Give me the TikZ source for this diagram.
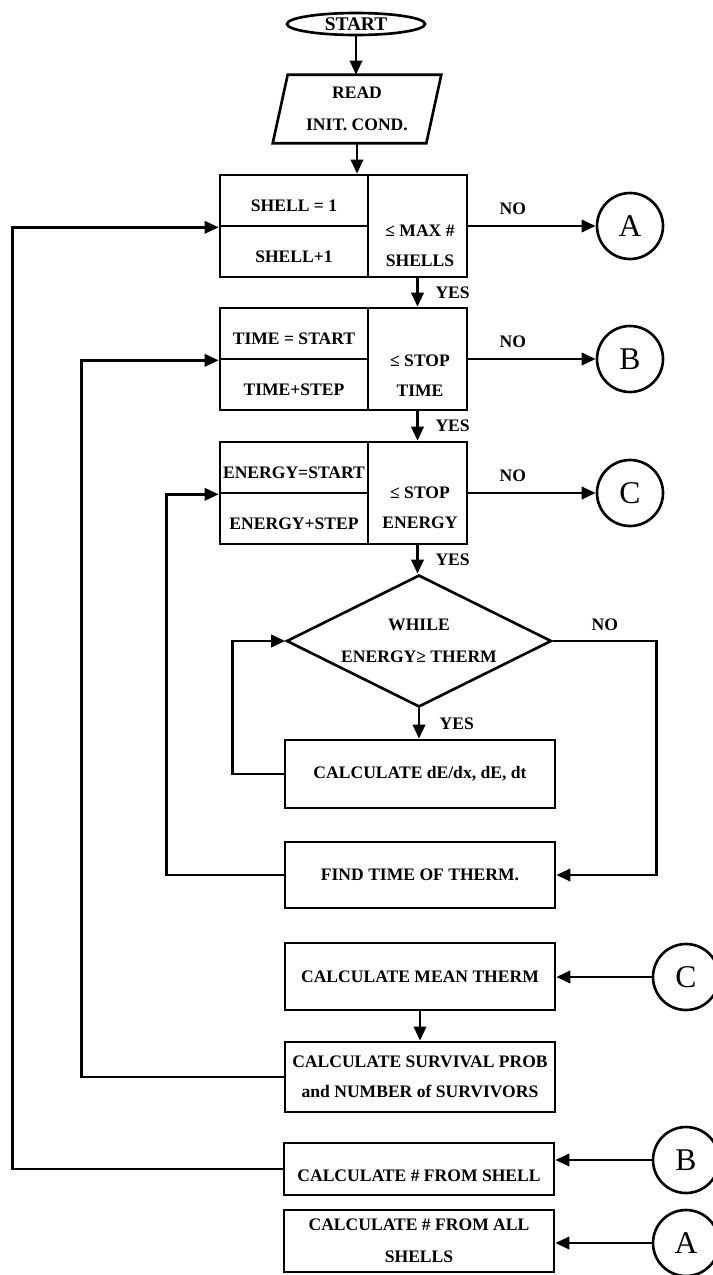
\documentclass[tikz,border=0pt]{standalone}
\usepackage{fontspec}
\setmainfont{Liberation Serif}
\usetikzlibrary{arrows.meta, shapes.geometric, positioning}

\begin{document}
\begin{tikzpicture}[x=0.02cm, y=-0.02cm, line width=1.5pt,
    every node/.style={font=\fontsize{10}{17}\selectfont\bfseries},
    box/.style={rectangle, draw, minimum width=5.4cm, align=center, inner xsep=1pt},
    cell/.style={rectangle, draw, minimum width=2.96cm, minimum height=1.02cm,
                 inner sep=0pt, text height=13pt, text depth=0pt},
    test/.style={rectangle, draw, minimum width=1.98cm, minimum height=2.04cm},
    cond/.style={align=center, inner sep=0pt},
    conn/.style={circle, draw, minimum size=1.32cm, inner sep=0pt,
                 font=\fontsize{18}{20}\selectfont},
    tag/.style={inner sep=1pt},
    ar/.style={-{Triangle[length=8pt, width=7pt]}}
]
\useasboundingbox (0,0) rectangle (713,1275);

% start and input
\node[ellipse, draw, minimum width=2.76cm, minimum height=0.44cm, inner sep=0pt,
      font=\fontsize{11}{13}\selectfont\bfseries] (start) at (356,24) {START};
\node[minimum width=2.72cm, minimum height=1.32cm, align=center, font=\fontsize{10}{18}\selectfont\bfseries] (read) at (357,109) {READ\\INIT. COND.};
\draw (read.north west) -- ([xshift=0.3cm]read.north east) -- (read.south east)
      -- ([xshift=-0.3cm]read.south west) -- cycle;

% shell loop
\node[cell] (init1) at (294,200.5) {SHELL = 1};
\node[cell] (incr1) at (294,251.5) {SHELL+1};
\node[test] (test1) at (417.5,226) {};
\node[cond] (q1) at (420,246) {≤ MAX \#\\SHELLS};

% time loop
\node[cell] (init2) at (294,333.5) {TIME = START};
\node[cell] (incr2) at (294,384.5) {TIME+STEP};
\node[test] (test2) at (417.5,359) {};
\node[cond] (q2) at (420,376) {≤ STOP\\TIME};

% energy loop
\node[cell] (init3) at (294,467.5) {ENERGY=START};
\node[cell] (incr3) at (294,518.5) {ENERGY+STEP};
\node[test] (test3) at (417.5,493) {};
\node[cond] (q3) at (420,508) {≤ STOP\\ENERGY};

% exits
\node[conn] (cA) at (630,226) {A};
\node[conn] (cB) at (630,359) {B};
\node[conn] (cC) at (630,493) {C};

% thermalisation
\node[diamond, draw, minimum width=5.3cm, minimum height=2.64cm, inner sep=0pt, aspect=2,
      align=center, font=\fontsize{10}{18}\selectfont\bfseries] (while) at (419,641) {WHILE\\ENERGY≥ THERM};
\node[box, minimum height=1.36cm] (calcd) at (420,774) {CALCULATE dE/dx, dE, dt};
\node[box, minimum height=1.32cm] (find) at (420,875) {FIND TIME OF THERM.};
\node[box, minimum height=1.34cm] (mean) at (420,976.5) {CALCULATE MEAN THERM};
\node[box, minimum height=1.4cm] (surv) at (420,1077) {CALCULATE SURVIVAL PROB\\and NUMBER of SURVIVORS};
\node[box, minimum height=1.04cm, text height=14pt] (fromshell) at (419,1169) {CALCULATE \# FROM SHELL};
\node[box, minimum height=1.24cm, font=\fontsize{10}{18}\selectfont\bfseries] (fromall) at (419,1241) {CALCULATE \# FROM ALL\\SHELLS};

\node[conn] (cC2) at (686,977) {C};
\node[conn] (cB2) at (686,1160) {B};
\node[conn] (cA2) at (686,1243) {A};

% main flow
\draw[ar] (start.south) -- (start.south |- read.north);
\draw[ar] (read.south) -- (read.south |- init1.north);
\draw[ar] (test1.south) -- node[tag, right=8.5pt] (yes1) {YES} (test2.north);
\draw[ar] (test2.south) -- node[tag, right=8.5pt] (yes2) {YES} (test3.north);
\draw[ar] (test3.south) -- node[tag, right=8.5pt] (yes3) {YES} (test3.south |- while.north);
\draw[ar] (while.south) -- node[tag, right=10pt] (yes4) {YES} (while.south |- calcd.north);
\draw[ar] (mean) -- (surv);

% exits to connectors
\draw[ar] (test1.east) -- node[tag, above=4.5pt, pos=0.35] (no1) {NO} (cA.west);
\draw[ar] (test2.east) -- node[tag, above=4.5pt, pos=0.35] (no2) {NO} (cB.west);
\draw[ar] (test3.east) -- node[tag, above=4.5pt, pos=0.35] (no3) {NO} (cC.west);
\draw[ar] (while.east) -- node[tag, above=4pt] (no4) {NO} ++(104,0) |- (find.east);

% loops back
\draw[ar] (calcd.west) -- ++(-51,0) |- (while.west);
\draw[ar] (find.west) -- ++(-117,0) |- (init3.south west);
\draw[ar] (surv.west) -- ++(-202,0) |- (init2.south west);
\draw[ar] (fromshell.west) -- ++(-270,0) |- (init1.south west);

% connectors in
\draw[ar] (cC2.west) -- (cC2.west -| mean.east);
\draw[ar] (cB2.west) -- (cB2.west -| fromshell.east);
\draw[ar] (cA2.west) -- (cA2.west -| fromall.east);
\end{tikzpicture}
\end{document}
